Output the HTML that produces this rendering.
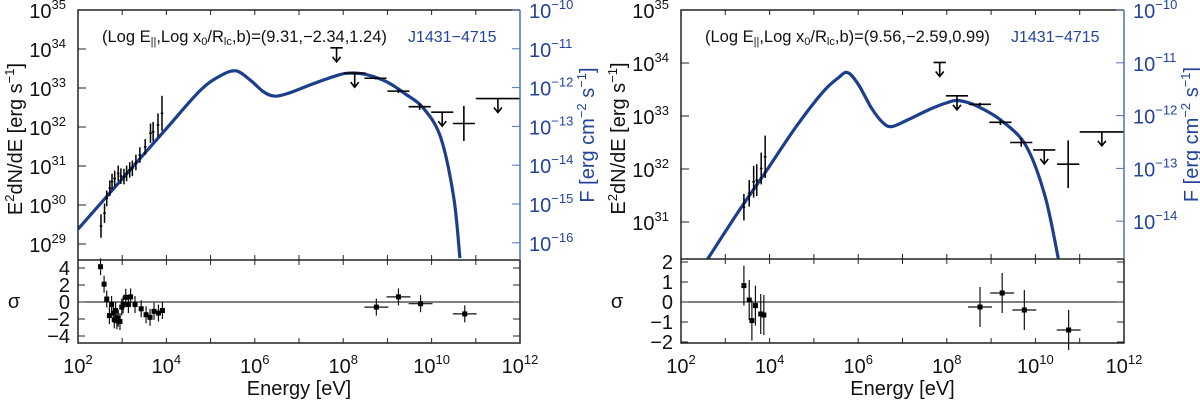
<!DOCTYPE html>
<html><head><meta charset="utf-8">
<style>
html,body{margin:0;padding:0;background:#fff;}
svg{display:block;font-family:"Liberation Sans","DejaVu Sans",sans-serif;}
</style></head>
<body>
<svg id="fig" width="1200" height="400" viewBox="0 0 1200 400" xmlns="http://www.w3.org/2000/svg"></svg>
<script>
// ---------- Left panel data ----------
const L_modelE = [2,3,4,4.75,5.2,5.57,5.9,6.2,6.46,6.8,7.3,7.8,8.1,8.5,9,9.4,9.8,10.2,10.5,10.64];
const L_modelL = [29.38,30.67,31.96,32.92,33.3,33.44,33.2,32.9,32.79,32.88,33.1,33.3,33.38,33.35,33.15,32.85,32.5,31.75,30.2,28.64];
const L_xrayE = [2.52,2.60,2.65,2.72,2.77,2.83,2.91,2.97,3.04,3.10,3.17,3.23,3.31,3.40,3.52,3.64,3.70,3.81,3.90];
const L_xrayL = [29.46,29.79,30.17,30.43,30.60,30.68,30.81,30.74,30.73,30.81,30.90,30.94,31.09,31.28,31.49,31.84,31.88,32.05,32.35];
const L_xrayErr = [0.3,0.25,0.2,0.2,0.2,0.2,0.2,0.2,0.2,0.2,0.2,0.2,0.2,0.2,0.2,0.25,0.25,0.3,0.45];
const L_gE = [8.73,9.25,9.73,10.73];
const L_gL = [33.25,32.92,32.52,32.09];
const L_gErr = [0.03,0.05,0.08,0.45];
const L_ulE = [7.85,8.26,10.24,11.5];
const L_ulL = [34.03,33.38,32.38,32.73];
const L_ulW = [0.14,0.25,0.25,0.5];
const L_resE = [2.51,2.59,2.65,2.71,2.76,2.80,2.82,2.85,2.88,2.91,2.95,2.99,3.02,3.08,3.14,3.19,3.29,3.43,3.54,3.63,3.72,3.82,3.91];
const L_resV = [4.15,2.1,0.35,-1.6,-0.3,-1.3,-2.1,-1.0,-2.2,-1.9,-2.3,-0.6,-0.35,0.55,-0.3,0.6,-0.3,-0.8,-1.5,-1.8,-1.1,-1.3,-1.0];
const L_resGE = [8.75,9.25,9.75,10.75];
const L_resGV = [-0.6,0.6,-0.2,-1.4];
// ---------- Right panel data ----------
const R_modelE = [2.6,3.3,3.89,4.6,5.2,5.55,5.76,6.0,6.3,6.55,6.75,7.1,7.6,8.0,8.28,8.7,9.27,9.8,10.22,10.52];
const R_modelL = [30.3,31.2,31.92,32.8,33.45,33.72,33.82,33.6,33.15,32.88,32.8,32.92,33.12,33.25,33.29,33.18,32.89,32.42,31.48,30.3];
const R_xrayE = [3.42,3.54,3.64,3.71,3.81,3.90];
const R_xrayL = [31.28,31.54,31.76,31.79,32.01,32.23];
const R_xrayErr = [0.25,0.25,0.3,0.3,0.3,0.4];
const R_gE = [8.75,9.21,9.68,10.74];
const R_gL = [33.22,32.88,32.5,32.09];
const R_gErr = [0.03,0.05,0.08,0.45];
const R_ulE = [7.84,8.23,10.2,11.5];
const R_ulL = [34.01,33.38,32.36,32.7];
const R_ulW = [0.14,0.25,0.25,0.5];
const R_resE = [3.42,3.54,3.60,3.68,3.80,3.87];
const R_resV = [0.82,0.1,-0.93,-0.18,-0.6,-0.65];
const R_resGE = [8.75,9.25,9.75,10.75];
const R_resGV = [-0.25,0.45,-0.4,-1.4];
// ---------- Tick labels ----------
const xTickExp = [2,4,6,8,10,12];
const L_yTickExp = [35,34,33,32,31,30,29];
const L_y2TickExp = [-10,-11,-12,-13,-14,-15,-16];
const L_resTicks = [4,2,0,-2,-4];
const R_yTickExp = [35,34,33,32,31];
const R_y2TickExp = [-10,-11,-12,-13,-14];
const R_resTicks = [2,1,0,-1,-2];

const NS = "http://www.w3.org/2000/svg";
const svg = document.getElementById('fig');
function el(tag, attrs, parent){
  const e = document.createElementNS(NS, tag);
  for (const k in attrs) e.setAttribute(k, attrs[k]);
  (parent||svg).appendChild(e);
  return e;
}
const BLUE = "#1c3f8c", AXB = "#4f72b8", LBLUE = "#23449a";

function supText(g, x, y, base, exp, anchor, color, nm){
  const t = el('text', {x:x, y:y, 'font-size':20, 'text-anchor':anchor, fill:color}, g);
  
  
  const a = el('tspan', {}, t); a.textContent = base;
  const b = el('tspan', {dy:-9, 'font-size':13}, t); b.textContent = exp;
  return t;
}

function panel(P){
  const g = el('g', {});
  
  
  const X = e => P.x0 + (e - 2) * (P.x1 - P.x0) / 10;
  const Y = l => P.top + (P.ymax - l) * P.dec;
  const RY = v => P.res0 + (-v) * P.resU;
  const cid = P.name + '-clip';
  const defs = el('defs', {}, g);
  const cp = el('clipPath', {id:cid}, defs);
  el('rect', {x:P.x0, y:P.top, width:P.x1-P.x0, height:P.mid-P.top}, cp);
  const pts = P.mE.map((e,i)=>[X(e), Y(P.mL[i])]);
  let d = 'M' + pts[0][0] + ',' + pts[0][1];
  for (let i=0;i<pts.length-1;i++){
    const p0 = pts[Math.max(0,i-1)], p1 = pts[i], p2 = pts[i+1], p3 = pts[Math.min(pts.length-1,i+2)];
    const c1 = [p1[0]+(p2[0]-p0[0])/6, p1[1]+(p2[1]-p0[1])/6];
    const c2 = [p2[0]-(p3[0]-p1[0])/6, p2[1]-(p3[1]-p1[1])/6];
    d += ' C'+c1[0]+','+c1[1]+' '+c2[0]+','+c2[1]+' '+p2[0]+','+p2[1];
  }
  const curve = el('path', {d:d, fill:'none', stroke:BLUE, 'stroke-width':3.2, 'clip-path':'url(#'+cid+')'}, g);
  
  
  P.xE.forEach((e,i)=>{
    const cx = X(e), cy = Y(P.xL[i]);
    const pg = el('g', {stroke:'#000', 'stroke-width':1.5}, g);
    
    
    el('line', {x1:cx, x2:cx, y1:Y(P.xL[i]+P.xErr[i]), y2:Y(P.xL[i]-P.xErr[i])}, pg);
    el('line', {x1:X(e-0.03), x2:X(e+0.03), y1:cy, y2:cy}, pg);
  });
  P.gE.forEach((e,i)=>{
    const cx = X(e), cy = Y(P.gL[i]);
    const pg = el('g', {stroke:'#000', 'stroke-width':1.6}, g);
    
    
    el('line', {x1:X(e-0.25), x2:X(e+0.25), y1:cy, y2:cy}, pg);
    el('line', {x1:cx, x2:cx, y1:Y(P.gL[i]+P.gErr[i]), y2:Y(P.gL[i]-P.gErr[i])}, pg);
  });
  P.uE.forEach((e,i)=>{
    const cx = X(e), cy = Y(P.uL[i]);
    const pg = el('g', {stroke:'#000', 'stroke-width':1.6, fill:'none'}, g);
    
    
    el('line', {x1:X(e-P.uW[i]), x2:X(Math.min(12,e+P.uW[i])), y1:cy, y2:cy}, pg);
    el('line', {x1:cx, x2:cx, y1:cy, y2:cy+14}, pg);
    el('polyline', {points:(cx-4)+','+(cy+9)+' '+cx+','+(cy+14)+' '+(cx+4)+','+(cy+9)}, pg);
  });
  const zl = el('line', {x1:P.x0, x2:P.x1, y1:RY(0), y2:RY(0), stroke:'#000', 'stroke-width':1}, g);
  
  
  const resAll = P.rE.map((e,i)=>[e,P.rV[i],0.02]).concat(P.rgE.map((e,i)=>[e,P.rgV[i],0.27]));
  resAll.forEach(r=>{
    const cx = X(r[0]), cy = RY(r[1]);
    const pg = el('g', {stroke:'#111', 'stroke-width':1.2}, g);
    
    
    el('line', {x1:cx, x2:cx, y1:RY(r[1]+1), y2:RY(r[1]-1)}, pg);
    if (r[2] > 0.1) el('line', {x1:X(r[0]-r[2]), x2:X(r[0]+r[2]), y1:cy, y2:cy}, pg);
    el('rect', {x:cx-2.5, y:cy-2.5, width:5, height:5, fill:'#000', stroke:'none'}, pg);
  });
  const fr = el('path', {d:`M${P.x1},${P.top} L${P.x0},${P.top} L${P.x0},${P.bot} L${P.x1},${P.bot} L${P.x1},${P.mid} M${P.x0},${P.mid} L${P.x1},${P.mid}`, fill:'none', stroke:'#222', 'stroke-width':1.5}, g);
  
  
  const ra = el('line', {x1:P.x1, x2:P.x1, y1:P.top, y2:P.mid, stroke:AXB, 'stroke-width':1.5}, g);
  
  
  for (let e=3;e<12;e++){
    const x = X(e);
    el('line', {x1:x, x2:x, y1:P.top, y2:P.top+5, stroke:'#222'}, g);
    el('line', {x1:x, x2:x, y1:P.mid, y2:P.mid-5, stroke:'#222'}, g);
    el('line', {x1:x, x2:x, y1:P.mid, y2:P.mid+5, stroke:'#222'}, g);
    el('line', {x1:x, x2:x, y1:P.bot, y2:P.bot-5, stroke:'#222'}, g);
  }
  xTickExp.forEach(e=>{
    supText(g, X(e), P.bot+30, '10', e, 'middle', '#111', 'x-tick-label');
  });
  P.yT.forEach(e=>{
    const y = Y(e);
    el('line', {x1:P.x0, x2:P.x0+8, y1:y, y2:y, stroke:'#222'}, g);
    supText(g, P.x0-12, y+8, '10', e, 'end', '#111', 'y-tick-label');
  });
  P.y2T.forEach(e=>{
    const y = P.top + (-10 - e) * P.dec2;
    el('line', {x1:P.x1, x2:P.x1-8, y1:y, y2:y, stroke:AXB}, g);
    supText(g, P.x1+9, y+8, '10', '\u2212'+(-e), 'start', LBLUE, 'right-tick-label');
  });
  P.rT.forEach(v=>{
    const y = RY(v);
    el('line', {x1:P.x0, x2:P.x0+7, y1:y, y2:y, stroke:'#222'}, g);
    el('line', {x1:P.x1, x2:P.x1-7, y1:y, y2:y, stroke:'#222'}, g);
    const t = el('text', {x:P.x0-8, y:y+7, 'font-size':20, 'text-anchor':'end', fill:'#111'}, g);
    
    
    t.textContent = v < 0 ? '\u2212' + (-v) : String(v);
  });
  const yt = el('text', {x:0, y:0, 'font-size':20, 'text-anchor':'middle', fill:'#111', transform:`translate(${P.x0-56},${(P.top+P.mid)/2+4}) rotate(-90)`}, g);
  
  
  yt.innerHTML = 'E<tspan dy="-8" font-size="13">2</tspan><tspan dy="8">dN/dE [erg s</tspan><tspan dy="-8" font-size="13">\u22121</tspan><tspan dy="8">]</tspan>';
  const y2 = el('text', {x:0, y:0, 'font-size':20, 'text-anchor':'middle', fill:LBLUE, transform:`translate(${P.x1+74},${(P.top+P.mid)/2}) rotate(-90)`}, g);
  
  
  y2.innerHTML = 'F [erg cm<tspan dy="-8" font-size="13">\u22122</tspan><tspan dy="8"> s</tspan><tspan dy="-8" font-size="13">\u22121</tspan><tspan dy="8">]</tspan>';
  const sg = el('text', {x:P.x0-64, y:RY(0)+6, 'font-size':20, 'text-anchor':'middle', fill:'#111'}, g);
  
  
  sg.textContent = '\u03c3';
  const xt = el('text', {x:(P.x0+P.x1)/2, y:395, 'font-size':20, 'text-anchor':'middle', fill:'#111'}, g);
  
  
  xt.textContent = 'Energy [eV]';
  const an = el('text', {x:P.x0+24, y:42, 'font-size':16.5, fill:'#111'}, g);
  
  
  an.innerHTML = '(Log E<tspan dy="3" font-size="11">||</tspan><tspan dy="-3">,Log x</tspan><tspan dy="3" font-size="11">0</tspan><tspan dy="-3">/R</tspan><tspan dy="3" font-size="11">lc</tspan><tspan dy="-3">,b)=' + P.ann + '</tspan>';
  const nm = el('text', {x:P.x0+330, y:42, 'font-size':16, fill:LBLUE}, g);
  
  
  nm.textContent = 'J1431\u22124715';
}

panel({name:'left-panel', x0:78, x1:520, top:10, mid:260, bot:343, ymax:35, dec:39, dec2:38.8,
  res0:302, resU:8.5,
  mE:L_modelE, mL:L_modelL, xE:L_xrayE, xL:L_xrayL, xErr:L_xrayErr,
  gE:L_gE, gL:L_gL, gErr:L_gErr, uE:L_ulE, uL:L_ulL, uW:L_ulW,
  rE:L_resE, rV:L_resV, rgE:L_resGE, rgV:L_resGV,
  yT:L_yTickExp, y2T:L_y2TickExp, rT:L_resTicks, ann:'(9.31,\u22122.34,1.24)'});
panel({name:'right-panel', x0:681, x1:1124, top:10, mid:259, bot:343, ymax:35, dec:53, dec2:52.8,
  res0:302, resU:20,
  mE:R_modelE, mL:R_modelL, xE:R_xrayE, xL:R_xrayL, xErr:R_xrayErr,
  gE:R_gE, gL:R_gL, gErr:R_gErr, uE:R_ulE, uL:R_ulL, uW:R_ulW,
  rE:R_resE, rV:R_resV, rgE:R_resGE, rgV:R_resGV,
  yT:R_yTickExp, y2T:R_y2TickExp, rT:R_resTicks, ann:'(9.56,\u22122.59,0.99)'});
</script>
</body></html>
